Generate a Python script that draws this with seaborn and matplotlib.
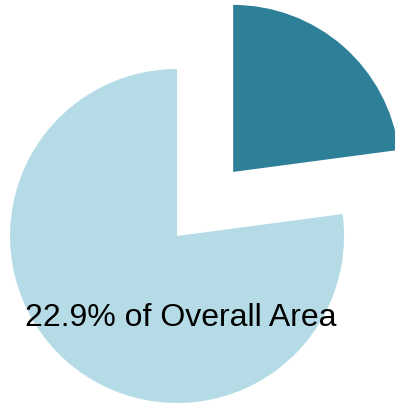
import matplotlib
matplotlib.use("Agg")
import matplotlib.pyplot as plt
import seaborn as sns

# Share of the overall area taken by the highlighted region
labels = ["Region", "Remainder"]
shares = [22.9, 77.1]
colors = ["#2E8098", "#B5DCE6"]
caption = "22.9% of Overall Area"

sns.set_theme(style="white")
plt.rcParams["font.family"] = ["Liberation Sans", "DejaVu Sans"]

fig = plt.figure(figsize=(3.95, 4.06), dpi=100)
ax = fig.add_axes([0, 0, 1, 1])

ax.pie(
    shares,
    colors=colors,
    startangle=90,
    counterclock=False,
    explode=[0.51, 0.0],
    radius=1.0,
    wedgeprops=dict(linewidth=0),
)

ax.text(0.02, -0.485, caption, ha="center", va="center",
        fontsize=23, color="black")

ax.set_xlim(-1.060, 1.305)
ax.set_ylim(-1.012, 1.419)
ax.set_aspect("equal")
ax.axis("off")

fig.savefig("out.png", dpi=100, facecolor="white")
